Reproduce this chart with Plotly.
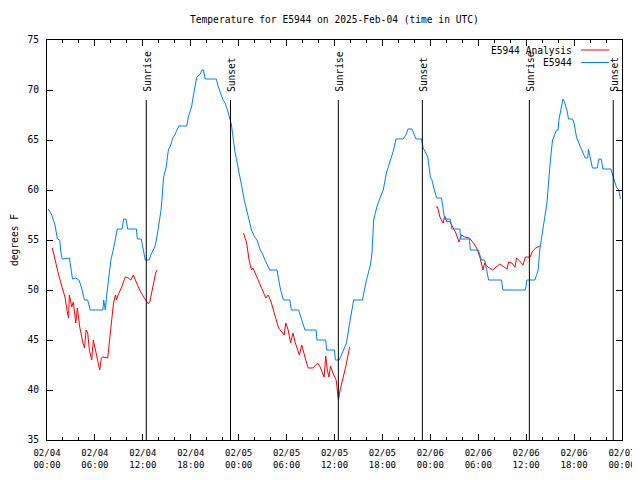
import plotly.graph_objects as go
import pandas as pd

BASE = pd.Timestamp("2025-02-04 00:00")

# Observed temperature (hours since 2025-02-04 00:00 UTC, degF)
obs_hours = [0.15, 0.6, 0.8, 1.0, 1.3, 1.6, 1.7, 1.9, 2.8, 3.0, 3.2, 3.6, 4.0, 4.3, 4.7, 5.1, 5.4,
             7.0, 7.1, 7.2, 7.3, 7.5, 7.8, 8.0, 8.3, 8.6, 8.8, 9.4, 9.6, 9.9, 10.1, 11.2, 11.3, 11.8,
             12.1, 12.3, 12.8, 13.0, 13.3, 13.5, 13.7, 13.9, 14.1, 14.3, 14.6, 14.9, 15.2, 15.5, 15.8,
             16.0, 16.5, 17.5, 17.7, 18.1, 18.3, 18.5, 18.75, 19.2, 19.4, 19.6, 19.8, 21.2, 21.5, 22.0,
             22.3, 22.6, 22.9, 23.1, 23.5, 24.0, 24.4, 24.7, 25.0, 25.3, 25.6, 26.0, 26.3, 26.7, 27.0,
             27.3, 27.9, 28.8, 29.0, 29.2, 29.6, 30.4, 30.6, 31.5, 31.9, 32.3, 33.7, 33.8, 34.9, 35.0,
             36.0, 36.1, 36.6, 37.0, 37.5, 37.9, 38.4, 39.5, 40.0, 40.5, 40.7, 40.9, 41.3, 41.7, 42.1,
             42.5, 42.9, 43.4, 43.7, 44.6, 45.0, 45.2, 45.7, 46.0, 46.2, 46.9, 47.1, 47.5, 47.7, 48.0,
             48.2, 48.5, 48.8, 49.4, 49.6, 49.8, 50.5, 50.7, 51.7, 51.8, 52.9, 53.0, 54.0, 54.4, 54.8,
             55.2, 55.3, 56.9, 57.1, 59.9, 60.1, 61.1, 61.5, 61.7, 62.1, 62.6, 63.0, 63.3, 63.8, 64.0,
             64.1, 64.4, 64.6, 64.8, 65.1, 65.3, 65.8, 66.0, 66.3, 66.8, 67.1, 67.4, 67.7, 67.8, 67.9,
             68.3, 68.9, 69.1, 69.4, 69.6, 70.6, 70.9, 71.3, 71.6, 71.8]
obs_temps = [58.1, 57.5, 57.0, 56.5, 55.1, 55.0, 54.0, 53.1, 53.2, 52.0, 51.1, 51.2, 51.0, 50.3, 49.0, 49.0, 48.0,
             48.0, 49.0, 48.5, 48.0, 49.7, 51.5, 53.0, 54.0, 55.1, 56.1, 56.1, 57.1, 57.1, 56.1, 56.1, 55.1, 55.1,
             54.0, 53.0, 53.0, 53.5, 54.0, 54.3, 55.0, 56.0, 57.1, 58.1, 61.3, 62.2, 64.0, 64.5, 65.3,
             65.5, 66.4, 66.4, 67.3, 68.3, 69.3, 70.3, 71.3, 71.6, 72.0, 72.0, 71.1, 71.1, 70.2, 69.1,
             68.7, 68.0, 67.2, 66.5, 64.0, 61.7, 60.3, 59.0, 57.9, 57.0, 56.0, 55.3, 55.0, 54.0, 53.6,
             53.0, 52.0, 52.0, 51.0, 50.2, 49.0, 49.0, 48.0, 48.0, 47.0, 46.0, 46.0, 45.0, 45.0, 44.0,
             44.0, 43.0, 43.0, 43.7, 44.7, 46.7, 49.0, 49.0, 51.0, 52.5, 53.7, 57.0, 58.3, 59.2, 60.0,
             61.7, 62.8, 64.0, 65.1, 65.1, 65.6, 66.1, 66.1, 65.6, 65.1, 65.1, 64.2, 63.6, 63.2, 61.3,
             61.0, 60.0, 59.2, 59.2, 58.0, 57.1, 57.1, 56.1, 56.1, 55.1, 55.1, 54.0, 54.0, 53.0, 53.0,
             51.5, 51.0, 51.0, 50.0, 50.0, 51.0, 51.0, 52.0, 54.0, 56.0, 58.7, 62.7, 65.0, 66.0, 66.0,
             67.0, 68.3, 69.1, 68.8, 68.0, 67.1, 67.1, 66.7, 65.3, 64.3, 63.7, 63.2, 63.2, 64.1, 63.7,
             62.2, 62.2, 63.1, 63.1, 62.1, 62.1, 61.3, 60.3, 60.0, 59.1]

# Analysis temperature (None = gap between segments)
ana_hours = [0.67, 1.0, 1.4, 1.8, 2.25, 2.5, 2.7, 2.8, 3.1, 3.3, 3.6, 3.8, 3.9, 4.1, 4.5, 4.7, 4.9, 5.1,
             5.3, 5.6, 5.8, 6.0, 6.2, 6.4, 6.6, 6.8, 7.0, 7.6, 7.8, 8.0, 8.3, 8.5, 8.6, 8.7, 8.9, 9.35,
             9.8, 10.2, 10.5, 10.8, 11.2, 11.6, 12.1, 12.4, 12.7, 12.9, 13.1, 13.3, 13.6, 13.8,
             None,
             24.6, 25.0, 25.3, 25.6, 25.8, 26.3, 26.7, 27.1, 27.4, 27.7, 28.1, 28.6, 29.0, 29.4, 29.7,
             29.9, 30.2, 30.5, 30.8, 31.1, 31.6, 31.9, 32.1, 32.3, 32.7, 33.3, 33.9, 34.2, 34.7, 34.9,
             35.1, 35.3, 35.5, 35.8, 36.2, 36.5, 36.7, 37.0, 37.4, 37.9,
             None,
             48.7, 48.9, 49.2, 49.6, 49.8, 50.1, 50.4, 50.8, 51.2, 51.6, 51.9, 52.3, 52.9, 53.4, 53.8,
             54.2, 54.6, 54.8, 55.2, 55.8, 56.2, 56.7, 57.1, 57.6, 57.8, 58.2, 58.6, 58.8, 59.3, 59.6,
             59.9, 60.5, 60.8, 61.2, 61.7]
ana_temps = [54.2, 53.0, 51.7, 50.5, 49.3, 48.0, 47.2, 49.5, 48.3, 48.8, 46.7, 48.2, 47.3, 46.3, 44.7, 44.2, 46.0, 45.7,
             44.0, 43.0, 45.0, 44.3, 43.3, 42.7, 42.0, 43.2, 43.3, 43.2, 44.8, 46.7, 48.5, 49.3, 49.5, 49.0, 49.5, 50.3,
             51.3, 51.2, 51.0, 51.5, 50.7, 50.0, 49.3, 48.9, 48.6, 48.9, 49.7, 50.5, 51.7, 52.0,
             None,
             55.7, 54.7, 53.0, 52.0, 52.2, 51.3, 50.5, 49.7, 49.2, 49.5, 48.7, 47.3, 46.2, 45.8, 45.5,
             46.7, 46.0, 44.7, 45.7, 44.7, 43.5, 44.5, 44.0, 43.3, 42.2, 42.2, 42.7, 42.3, 41.3, 43.4,
             42.0, 41.3, 42.4, 41.7, 41.0, 39.0, 40.0, 41.0, 42.3, 44.3,
             None,
             58.3, 58.3, 57.3, 56.7, 57.4, 56.8, 56.9, 56.3, 55.7, 54.8, 55.5, 55.3, 55.2, 54.7, 54.2,
             53.3, 52.0, 52.7, 52.3, 52.0, 52.3, 52.6, 52.4, 52.1, 52.8, 52.7, 52.3, 53.2, 52.8, 52.5,
             53.3, 53.3, 53.9, 54.2, 54.4]

event_names = ["Sunrise", "Sunset", "Sunrise", "Sunset", "Sunrise", "Sunset"]
event_hours = [12.43, 22.98, 36.48, 47.0, 60.4, 70.9]

tick_hours = list(range(0, 73, 6))
tick_labels = ["02/04<br>00:00", "02/04<br>06:00", "02/04<br>12:00", "02/04<br>18:00",
               "02/05<br>00:00", "02/05<br>06:00", "02/05<br>12:00", "02/05<br>18:00",
               "02/06<br>00:00", "02/06<br>06:00", "02/06<br>12:00", "02/06<br>18:00",
               "02/07<br>00:00"]
y_ticks = [35, 40, 45, 50, 55, 60, 65, 70, 75]

series_names = ["E5944 Analysis", "E5944"]
series_colors = ["#ff0000", "#0080ff"]


def to_time(h):
    return None if h is None else BASE + pd.Timedelta(hours=h)


FONT = "DejaVu Sans Mono"
FS = 9.6
OFF = 8                        # page body margin of the browser
W, H = 640 - OFF, 480 - 2 * OFF  # keep the page from overflowing vertically
# plot area in screen pixels: x 47..622, y 40..440
SL, SR, ST, SB = 47, 622, 40, 440
L, T = SL - OFF, ST - OFF
R, B = W - (SR - OFF), H - (SB - OFF)


def px(xp):
    return (xp - SL) / (SR - SL)


def py(yp):
    return (SB - yp) / (SB - ST)


fig = go.Figure()
fig.add_trace(go.Scatter(x=[to_time(h) for h in ana_hours], y=ana_temps, mode="lines",
                         name=series_names[0], line=dict(color=series_colors[0], width=1),
                         connectgaps=False))
fig.add_trace(go.Scatter(x=[to_time(h) for h in obs_hours], y=obs_temps, mode="lines",
                         name=series_names[1], line=dict(color=series_colors[1], width=1)))

for name, h in zip(event_names, event_hours):
    t = to_time(h)
    fig.add_shape(type="line", x0=t, x1=t, y0=35, y1=69, xref="x", yref="y",
                  line=dict(color="black", width=1))
    fig.add_annotation(x=t, y=69, xref="x", yref="y", text=name, textangle=-90,
                       showarrow=False, xanchor="center", yanchor="bottom", yshift=6, xshift=1,
                       font=dict(family=FONT, size=FS, color="black"))

# legend (gnuplot style: text left, sample right)
for i, (nm, col) in enumerate(zip(series_names, series_colors)):
    yp = 50 + 12.5 * i
    fig.add_annotation(x=px(574), y=py(yp), xref="paper", yref="paper", text=nm,
                       showarrow=False, xanchor="right", yanchor="middle",
                       font=dict(family=FONT, size=FS, color="black"))
    fig.add_shape(type="line", x0=px(581), x1=px(609), y0=py(yp), y1=py(yp),
                  xref="paper", yref="paper", line=dict(color=col, width=1))

fig.add_annotation(x=px(14), y=py(240), xref="paper", yref="paper", text="degrees F",
                   textangle=-90, showarrow=False, xanchor="center", yanchor="middle",
                   font=dict(family=FONT, size=FS, color="black"))

fig.add_annotation(x=px(334.5), y=py(20), xref="paper", yref="paper",
                   text="Temperature for E5944 on 2025-Feb-04 (time in UTC)",
                   showarrow=False, xanchor="center", yanchor="middle",
                   font=dict(family=FONT, size=FS, color="black"))

fig.update_layout(
    width=W, height=H, autosize=False,
    margin=dict(l=L, r=R, t=T, b=B, pad=0, autoexpand=False),
    paper_bgcolor="white", plot_bgcolor="white",
    showlegend=False,
    font=dict(family=FONT, size=FS, color="black"),
)
fig.update_xaxes(
    range=[to_time(0), to_time(72)], automargin=False,
    tickmode="array", tickvals=[to_time(h) for h in tick_hours], ticktext=tick_labels,
    ticks="inside", ticklen=6, tickcolor="black", tickwidth=1,
    minor=dict(dtick=2 * 3600 * 1000, ticks="inside", ticklen=3, tickcolor="black",
               tick0=to_time(0)),
    showline=True, linecolor="black", linewidth=1, mirror="ticks",
    showgrid=False, zeroline=False, ticklabelstandoff=4, ticklabeloverflow="allow",
    tickfont=dict(family=FONT, size=9, color="black"),
)
fig.update_yaxes(
    range=[35, 75], tickmode="array", tickvals=y_ticks, automargin=False,
    ticks="inside", ticklen=6, tickcolor="black", tickwidth=1,
    showline=True, linecolor="black", linewidth=1, mirror="ticks",
    showgrid=False, zeroline=False, ticklabelstandoff=5,
    tickfont=dict(family=FONT, size=FS, color="black"),
)

fig.write_html("out.html")
